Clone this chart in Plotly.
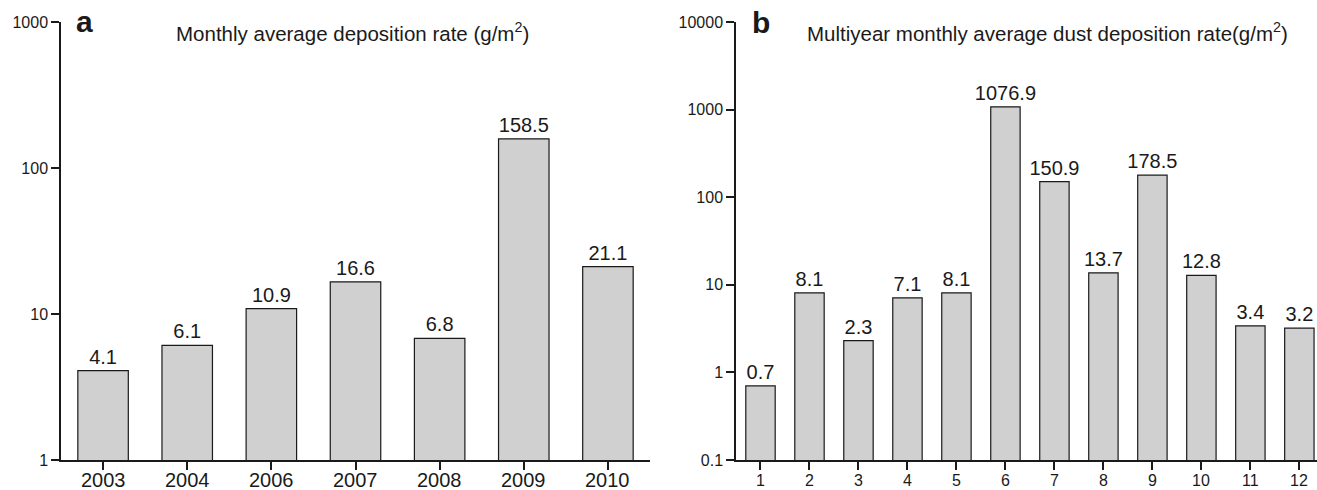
import plotly.graph_objects as go

years = ["2003", "2004", "2006", "2007", "2008", "2009", "2010"]
rate_a = [4.1, 6.1, 10.9, 16.6, 6.8, 158.5, 21.1]

months = list(range(1, 13))
rate_b = [0.7, 8.1, 2.3, 7.1, 8.1, 1076.9, 150.9, 13.7, 178.5, 12.8, 3.4, 3.2]

yticks_a = [1, 10, 100, 1000]
yticks_b = [0.1, 1, 10, 100, 1000, 10000]

W, H = 1317, 490
T, B = 22, 30
FONT = "Liberation Sans, Arial, Helvetica, sans-serif"
INK = "#1a1a1a"
FILL = "#d0d0d0"

def px_x(px):
    return px / W

def px_y(py):
    return (H - B - py) / (H - T - B)

fig = go.Figure()

fig.add_trace(go.Bar(
    x=list(range(len(years))), y=rate_a, width=0.6,
    marker=dict(color=FILL, line=dict(color=INK, width=1.2)),
    text=[f"{v:g}" for v in rate_a], textposition="outside", constraintext="none",
    textfont=dict(family=FONT, size=20, color=INK),
    cliponaxis=False, xaxis="x", yaxis="y", showlegend=False,
))
fig.add_trace(go.Bar(
    x=months, y=rate_b, width=0.6,
    marker=dict(color=FILL, line=dict(color=INK, width=1.2)),
    text=[f"{v:g}" for v in rate_b], textposition="outside", constraintext="none",
    textfont=dict(family=FONT, size=20, color=INK),
    cliponaxis=False, xaxis="x2", yaxis="y2", showlegend=False,
))

axis_common = dict(
    showgrid=False, zeroline=False, showline=True, linecolor=INK, linewidth=1.5,
    ticks="outside", ticklen=8, tickwidth=1.5, tickcolor=INK,
)

fig.update_layout(
    width=W, height=H,
    margin=dict(l=0, r=0, t=T, b=B),
    paper_bgcolor="white", plot_bgcolor="white",
    font=dict(family=FONT, color=INK),
    xaxis=dict(domain=[px_x(61), px_x(650)], range=[-0.5, 6.5],
               tickvals=list(range(len(years))), showticklabels=False, **axis_common),
    yaxis=dict(type="log", range=[0, 3], anchor="x",
               tickvals=yticks_a, ticktext=[f"{v:g}" for v in yticks_a],
               tickfont=dict(size=16, color=INK), **axis_common),
    xaxis2=dict(domain=[px_x(736), 1.0], range=[0.5, 12.36], anchor="y2",
                tickvals=months, showticklabels=False, **axis_common),
    yaxis2=dict(type="log", range=[-1, 4], anchor="x2",
                tickvals=yticks_b, ticktext=[f"{v:g}" for v in yticks_b],
                tickfont=dict(size=16, color=INK), **axis_common),
)

# x tick labels as annotations (so they sit close under the ticks)
for i, lab in enumerate(years):
    fig.add_annotation(text=lab, x=i, xref="x", y=px_y(480.5), yref="paper",
                       xanchor="center", yanchor="middle", showarrow=False,
                       font=dict(family=FONT, size=20, color=INK))
for m in months:
    fig.add_annotation(text=str(m), x=m, xref="x2", y=px_y(480.5), yref="paper",
                       xanchor="center", yanchor="middle", showarrow=False,
                       font=dict(family=FONT, size=16, color=INK))

ann = [
    dict(text="<b>a</b>", x=px_x(74), y=px_y(21.5), size=30),
    dict(text="<b>b</b>", x=px_x(750), y=px_y(22.5), size=30),
    dict(text="Monthly average deposition rate (g/m<sup>2</sup>)", x=px_x(174), y=px_y(32), size=20.5),
    dict(text="Multiyear monthly average dust deposition rate(g/m<sup>2</sup>)", x=px_x(805), y=px_y(32), size=20.5),
]
for a in ann:
    fig.add_annotation(text=a["text"], x=a["x"], y=a["y"], xref="paper", yref="paper",
                       xanchor="left", yanchor="middle", showarrow=False,
                       font=dict(family=FONT, size=a["size"], color=INK))

fig.write_html("out.html", config={"displayModeBar": False},
               post_script="document.body.style.margin='0';")
